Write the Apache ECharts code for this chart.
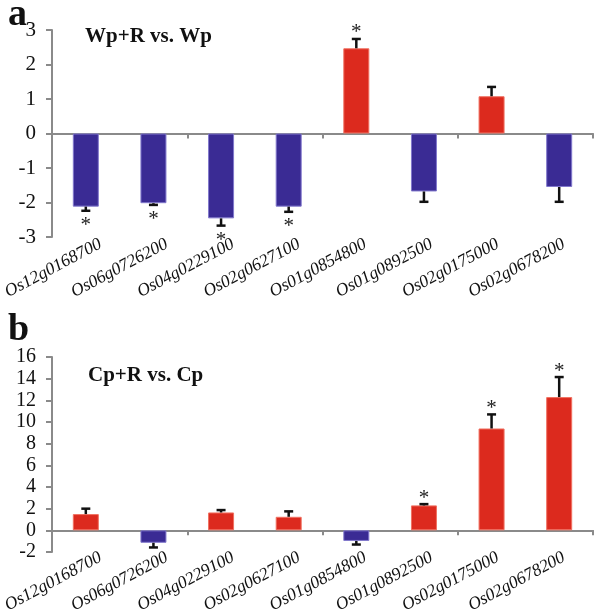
<!DOCTYPE html>
<html><head><meta charset="utf-8">
<script src="https://cdn.jsdelivr.net/npm/echarts@6/dist/echarts.min.js"></script>
<style>html,body{margin:0;padding:0;background:#fff}#c{width:597px;height:616px}</style>
</head><body><div id="c"></div>
<script>
const genes = ['Os12g0168700','Os06g0726200','Os04g0229100','Os02g0627100','Os01g0854800','Os01g0892500','Os02g0175000','Os02g0678200'];
const valuesA = [-2.12, -2.02, -2.46, -2.12, 2.47, -1.68, 1.08, -1.55];
const errA    = [0.12, 0.05, 0.21, 0.15, 0.27, 0.30, 0.27, 0.43];
const sigA    = [1, 1, 1, 1, 1, 0, 0, 0];
const valuesB = [1.5, -1.15, 1.65, 1.25, -0.98, 2.3, 9.4, 12.3];
const errB    = [0.5, 0.43, 0.22, 0.5, 0.33, 0.12, 1.3, 1.85];
const sigB    = [0, 0, 0, 0, 0, 1, 1, 1];
const ticksA = {min:-3, max:3, interval:1};
const ticksB = {min:-2, max:16, interval:2};

const RED = '#dc2a1e', BLUE = '#3a2b94';
const SERIF = 'Liberation Serif';
const GRAY = '#8a8a8a';

function barData(vals){
  return vals.map(v => ({value:v, itemStyle:{color: v>=0?RED:BLUE, borderColor: v>=0?'#f07060':'#8178cc', borderWidth:1}}));
}
function errSeries(vals, errs, sig, gi){
  return {
    type:'custom', xAxisIndex: gi, yAxisIndex: gi, z:5,
    data: vals.map((v,i)=>[i, v, errs[i], sig[i]]),
    renderItem(params, api){
      const i = api.value(0), v = api.value(1), e = api.value(2), s = api.value(3);
      const dir = v >= 0 ? 1 : -1;
      const p0 = api.coord([i, v]);
      const p1 = api.coord([i, v + dir*e]);
      const children = [
        {type:'line', shape:{x1:p0[0], y1:p0[1], x2:p1[0], y2:p1[1]}, style:{stroke:'#111', lineWidth:2.5}},
        {type:'line', shape:{x1:p1[0]-4.5, y1:p1[1], x2:p1[0]+4.5, y2:p1[1]}, style:{stroke:'#111', lineWidth:2.5}}
      ];
      if (s) {
        children.push({type:'text', style:{text:'*', x:p1[0], y:p1[1] + (dir>0 ? -6 : 15), align:'center', verticalAlign:'middle', fontFamily:SERIF, fontSize:21, fill:'#222'}});
      }
      return {type:'group', children};
    }
  };
}
function labelAxis(gi, fs){
  return {type:'category', gridIndex:gi, data:genes, position:'bottom',
    axisLine:{show:false, onZero:false}, axisTick:{show:false},
    axisLabel:{rotate:28, interval:0, fontFamily:SERIF, fontStyle:'italic', fontSize:fs, color:'#111', margin:6}};
}
function zeroAxis(gi){
  return {type:'category', gridIndex:gi, data:genes, position:'bottom',
    axisLine:{show:true, onZero:true, lineStyle:{color:GRAY, width:2}},
    axisTick:{show:true, length:5, inside:false, lineStyle:{color:GRAY, width:2}},
    axisLabel:{show:false}};
}
function yAxis(gi, t, fs){
  return {type:'value', gridIndex:gi, min:t.min, max:t.max, interval:t.interval,
    axisLine:{show:true, lineStyle:{color:GRAY, width:2}},
    axisTick:{show:true, length:6, lineStyle:{color:GRAY, width:2}},
    splitLine:{show:false},
    axisLabel:{fontFamily:SERIF, fontSize:fs, color:'#111', margin:16}};
}
function hiddenY(gi){ return {type:'value', gridIndex:gi, show:false, min:0, max:1}; }

const chart = echarts.init(document.getElementById('c'));
chart.setOption({
  animation:false,
  backgroundColor:'#fff',
  title:[
    {text:'a', left:3, top:-9, textStyle:{fontFamily:SERIF, fontWeight:'bold', fontSize:38, color:'#111'}},
    {text:'Wp+R vs. Wp', left:80, top:21, textStyle:{fontFamily:SERIF, fontWeight:'bold', fontSize:21, color:'#111'}},
    {text:'b', left:3, top:306, textStyle:{fontFamily:SERIF, fontWeight:'bold', fontSize:38, color:'#111'}},
    {text:'Cp+R vs. Cp', left:83, top:360, textStyle:{fontFamily:SERIF, fontWeight:'bold', fontSize:21, color:'#111'}}
  ],
  grid:[
    {left:52, right:4, top:30, height:207},
    {left:52, right:4, top:357, height:195},
    {left:66, right:-10, top:30, height:207},
    {left:66, right:-10, top:357, height:195}
  ],
  xAxis:[zeroAxis(0), zeroAxis(1), labelAxis(2,17.5), labelAxis(3,17.5)],
  yAxis:[yAxis(0, ticksA, 21), yAxis(1, ticksB, 20), hiddenY(2), hiddenY(3)],
  series:[
    {type:'bar', xAxisIndex:0, yAxisIndex:0, barWidth:26, data:barData(valuesA)},
    errSeries(valuesA, errA, sigA, 0),
    {type:'bar', xAxisIndex:1, yAxisIndex:1, barWidth:26, data:barData(valuesB)},
    errSeries(valuesB, errB, sigB, 1)
  ]
});
</script></body></html>
